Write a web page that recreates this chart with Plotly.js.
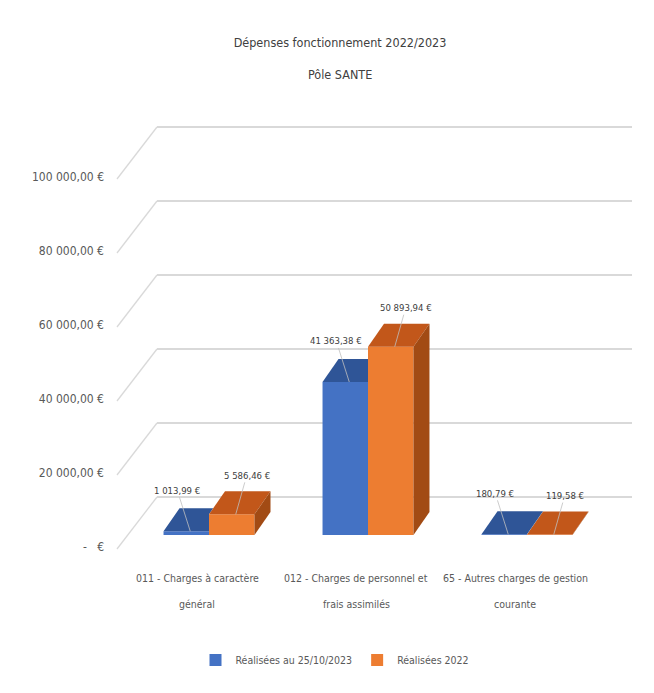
<!DOCTYPE html>
<html><head><meta charset="utf-8">
<script src="https://cdn.plot.ly/plotly-3.0.1.min.js"></script>
<style>html,body{margin:0;padding:0;background:#fff}</style>
</head><body><div id="chart" style="width:654px;height:693px"></div>
<script>
// ---------------- data ----------------
const categories = [
  "011 - Charges à caractère général",
  "012 - Charges de personnel et frais assimilés",
  "65 - Autres charges de gestion courante"
];
const categoryLines = [
  ["011 - Charges à caractère", "général"],
  ["012 - Charges de personnel et", "frais assimilés"],
  ["65 - Autres charges de gestion", "courante"]
];
const seriesNames = ["Réalisées au 25/10/2023", "Réalisées 2022"];
const realisees2023 = [1013.99, 41363.38, 180.79];
const realisees2022 = [5586.46, 50893.94, 119.58];
const yTickVals = [0, 20000, 40000, 60000, 80000, 100000];
const yTickText = ["-   €", "20 000,00 €", "40 000,00 €", "60 000,00 €", "80 000,00 €", "100 000,00 €"];
const titleLine1 = "Dépenses fonctionnement 2022/2023";
const titleLine2 = "Pôle SANTE";

// ---------------- styling / geometry (pixels) ----------------
const FONT = "'DejaVu Sans Condensed', 'Liberation Sans Narrow', sans-serif";
const GRAY = "#595959";
const W = 654, H = 693, PL = 100, PR = 632, PT = 100, PB = 560;
const PW = PR - PL, PH = PB - PT;
const K = 74 / 20000;               // px per euro
const X_DOM_LEFT = 157, CAT0 = 209, CAT_STEP = 159;
const Y_GRID0 = 497, Y_BAR0 = 535, Y_LAB0 = 547;
const LABEL_AXIS_X = 104, CONNECT_X0 = 117;
const DEPTH_X = 16, DEPTH_Y = 23;
const BARGAP = 0.428;
const C_BLUE = "#4472C4", C_BLUE_TOP = "#2F5597";
const C_OR = "#ED7D31", C_OR_TOP = "#C2571A", C_OR_SIDE = "#A24B14";

function yRange(y0px) { return [-(PB - y0px) / K, (y0px - PT) / K]; }
function px2paperX(px) { return (px - PL) / PW; }
function px2paperY(py) { return (PB - py) / PH; }
const xr0 = -(CAT0 - X_DOM_LEFT) / CAT_STEP;
const xRange = [xr0, xr0 + (PR - X_DOM_LEFT) / CAT_STEP];
const dxU = DEPTH_X / CAT_STEP, dyU = DEPTH_Y / K;
const gw = 1 - BARGAP, bw = gw / 2;

function fmtEuro(v) {
  const parts = v.toFixed(2).split(".");
  const intp = parts[0].replace(/\B(?=(\d{3})+(?!\d))/g, " ");
  return intp + "," + parts[1] + " €";
}

// ---------------- traces ----------------
const traces = [
  { type: "bar", name: seriesNames[0], x: categories, y: realisees2023, yaxis: "y2",
    marker: { color: C_BLUE }, hoverinfo: "x+y+name" },
  { type: "bar", name: seriesNames[1], x: categories, y: realisees2022, yaxis: "y2",
    marker: { color: C_OR }, hoverinfo: "x+y+name" },
  { type: "scatter", x: [categories[0]], y: [0], yaxis: "y3", mode: "none",
    showlegend: false, hoverinfo: "skip" }
];

// ---------------- 3D faces (computed from data) ----------------
const shapes = [];
const lateBlue = [];
categories.forEach((c, i) => {
  const vb = realisees2023[i], vo = realisees2022[i];
  const xl = i - bw, xm = i, xrr = i + bw;
  const top = vb + dyU;
  let p;
  if (vo >= top) {
    p = `M${xl},${vb} L${xm},${vb} L${xm},${top} L${xl + dxU},${top} Z`;
  } else if (vo > vb) {
    const xc = xm + dxU * (top - vo) / dyU;
    p = `M${xl},${vb} L${xm},${vb} L${xm},${vo} L${xc},${top} L${xl + dxU},${top} Z`;
  } else {
    p = `M${xl},${vb} L${xm},${vb} L${xm + dxU},${top} L${xl + dxU},${top} Z`;
  }
  const blueShape = { type: "path", xref: "x", yref: "y2", path: p, fillcolor: C_BLUE_TOP,
    line: { width: 0 }, layer: "above" };
  if (vo < vb) lateBlue.push(blueShape); else shapes.push(blueShape);
  shapes.push({ type: "path", xref: "x", yref: "y2", layer: "above", line: { width: 0 },
    fillcolor: C_OR_TOP,
    path: `M${xm},${vo} L${xrr},${vo} L${xrr + dxU},${vo + dyU} L${xm + dxU},${vo + dyU} Z` });
  shapes.push({ type: "path", xref: "x", yref: "y2", layer: "above", line: { width: 0 },
    fillcolor: C_OR_SIDE,
    path: `M${xrr},0 L${xrr},${vo} L${xrr + dxU},${vo + dyU} L${xrr + dxU},${dyU} Z` });
});
lateBlue.forEach(s => shapes.push(s));

// connectors between axis labels and back-wall gridlines
const connectShift = (Y_LAB0 + 2 - Y_GRID0) / K;
yTickVals.forEach(v => {
  shapes.push({ type: "line", xref: "paper", yref: "y", layer: "below",
    x0: px2paperX(CONNECT_X0), y0: v - connectShift, x1: px2paperX(X_DOM_LEFT), y1: v,
    line: { color: "#d9d9d9", width: 1.3 } });
});

// ---------------- annotations ----------------
const annotations = [];
const labelOffsets = [[-13, -41], [11, -39]];
[realisees2023, realisees2022].forEach((arr, s) => {
  arr.forEach((v, i) => {
    const xc = i + (s === 0 ? -bw / 2 : bw / 2);
    annotations.push({ xref: "x", yref: "y2", x: xc + 4 / CAT_STEP, y: v,
      text: fmtEuro(v), showarrow: true, arrowhead: 0, arrowwidth: 0.8,
      arrowcolor: "#bfbfbf", ax: labelOffsets[s][0], ay: labelOffsets[s][1],
      font: { family: FONT, size: 9.5, color: "#404040" } });
  });
});
categoryLines.forEach((lines, i) => {
  lines.forEach((t, j) => {
    annotations.push({ xref: "x", yref: "paper", x: categories[i], y: px2paperY(578 + 26 * j),
      xshift: -12, yanchor: "middle", showarrow: false, text: t,
      font: { family: FONT, size: 10.5, color: GRAY } });
  });
});
annotations.push({ xref: "paper", yref: "paper", x: px2paperX(340), y: px2paperY(74),
  yanchor: "middle", showarrow: false, text: titleLine2,
  font: { family: FONT, size: 12.5, color: "#404040" } });

// ---------------- layout ----------------
const layout = {
  width: W, height: H,
  margin: { l: PL, r: W - PR, t: PT, b: H - PB },
  paper_bgcolor: "#ffffff", plot_bgcolor: "rgba(0,0,0,0)",
  font: { family: FONT, color: GRAY, size: 11 },
  title: { text: titleLine1, x: 340 / W, xref: "container", xanchor: "center",
    y: 1 - 43 / H, yref: "container", yanchor: "middle",
    font: { family: FONT, size: 12.5, color: "#404040" } },
  barmode: "group", bargap: BARGAP, bargroupgap: 0,
  showlegend: true,
  legend: { orientation: "h", x: px2paperX(335), xanchor: "center", y: px2paperY(660),
    yanchor: "middle", font: { family: FONT, size: 10.5, color: GRAY }, itemwidth: 30 },
  xaxis: { type: "category", domain: [px2paperX(X_DOM_LEFT), 1], range: xRange,
    showticklabels: false, showgrid: false, zeroline: false, showline: false, ticks: "",
    fixedrange: true },
  yaxis: { domain: [0, 1], range: yRange(Y_GRID0), tickvals: yTickVals, showticklabels: false,
    showgrid: true, gridcolor: "#d9d9d9", gridwidth: 1.3, zeroline: false, showline: false,
    ticks: "", fixedrange: true },
  yaxis2: { overlaying: "y", range: yRange(Y_BAR0), showticklabels: false, showgrid: false,
    zeroline: false, showline: false, ticks: "", fixedrange: true },
  yaxis3: { overlaying: "y", anchor: "free", position: px2paperX(LABEL_AXIS_X), side: "left",
    range: yRange(Y_LAB0), tickvals: yTickVals, ticktext: yTickText, showgrid: false,
    zeroline: false, showline: false, ticks: "", fixedrange: true,
    tickfont: { family: FONT, size: 12, color: GRAY } },
  shapes: shapes,
  annotations: annotations
};

Plotly.newPlot("chart", traces, layout, { displayModeBar: false, staticPlot: true });
</script>
</body></html>
